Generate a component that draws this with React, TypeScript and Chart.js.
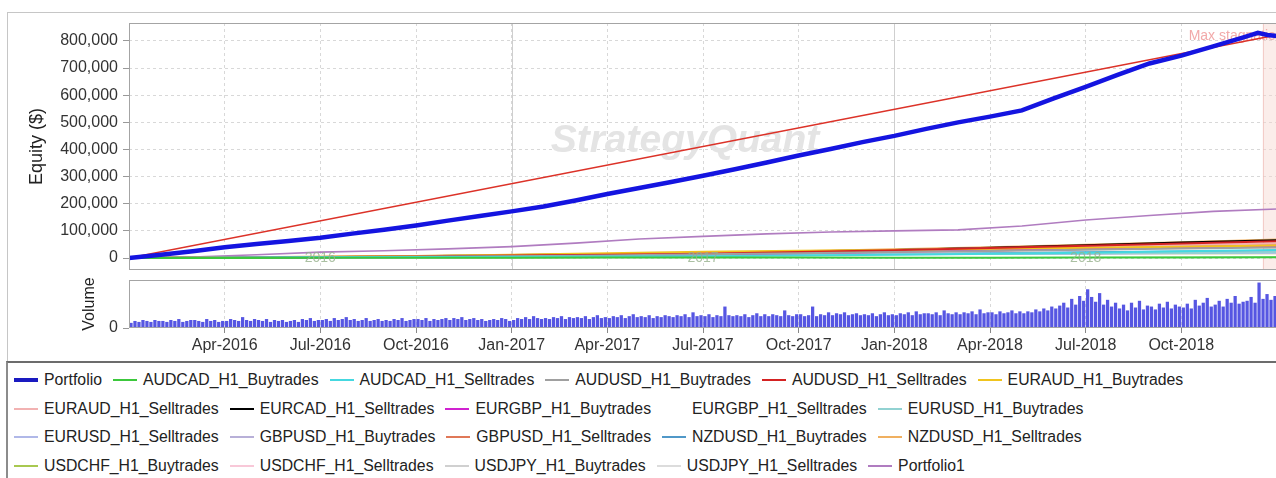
import React, { useEffect, useRef } from 'react';
import { Chart, registerables } from 'chart.js';

Chart.register(...registerables);

// ---------- axis / tick data ----------
const xTickMonths = [3, 6, 9, 12, 15, 18, 21, 24, 27, 30, 33];
const xTickLabels = ['Apr-2016', 'Jul-2016', 'Oct-2016', 'Jan-2017', 'Apr-2017', 'Jul-2017', 'Oct-2017', 'Jan-2018', 'Apr-2018', 'Jul-2018', 'Oct-2018'];
const yearBoundaryMonths = [12, 24];
const yearLabels = ['2016', '2017', '2018'];
const yearLabelMonths = [6, 18, 30];
const equityTicks = [0, 100000, 200000, 300000, 400000, 500000, 600000, 700000, 800000];
const stagnationStartMonth = 35.55;
const stagnationEndMonth = 36;

// ---------- series data (x in months since Jan-2016) ----------
const portfolioMonths = [0, 1, 2, 3, 4, 5, 6, 7, 8, 9, 10, 11, 12, 13, 14, 15, 16, 17, 18, 19, 20, 21, 22, 23, 24, 25, 26, 27, 28, 29, 30, 31, 32, 33, 34, 35, 35.4, 35.7, 36];
const portfolioValues = [0, 12000, 25000, 40000, 52000, 63000, 75000, 90000, 104000, 120000, 138000, 155000, 172000, 190000, 212000, 236000, 258000, 280000, 303000, 327000, 352000, 378000, 402000, 427000, 450000, 476000, 500000, 521000, 544000, 588000, 631000, 675000, 717000, 746000, 780000, 815000, 830000, 822000, 818000];

const trendMonths = [0, 36];
const trendValues = [0, 822000];

const portfolio1Months = [0, 2, 4, 6, 8, 10, 12, 14, 16, 18, 20, 22, 24, 26, 28, 30, 32, 34, 36];
const portfolio1Values = [0, 4000, 12000, 22000, 27000, 34000, 42000, 55000, 70000, 80000, 89000, 96000, 100000, 104000, 118000, 140000, 157000, 172000, 181000];

const strategyMonths = [0, 3, 6, 9, 12, 15, 18, 21, 24, 27, 30, 33, 36];
const audcadBuy = [0, 0, 1000, 1000, 1000, 2000, 2000, 2000, 1000, 1000, 2000, 2000, 3000];
const audcadSell = [0, 2000, 3000, 4000, 5000, 6000, 7000, 9000, 12000, 16000, 20000, 25000, 30000];
const audusdBuy = [0, 1000, 3000, 5000, 7000, 9000, 14000, 18000, 22000, 26000, 31000, 35000, 39000];
const audusdSell = [0, 2000, 4000, 6000, 9000, 12000, 16000, 22000, 29000, 37000, 45000, 54000, 62000];
const euraudBuy = [0, 3000, 5000, 8000, 12000, 18000, 23000, 27000, 30000, 34000, 38000, 42000, 46000];
const euraudSell = [0, 2000, 5000, 8000, 11000, 14000, 19000, 24000, 30000, 36000, 42000, 48000, 54000];
const eurcadSell = [0, 1000, 3000, 7000, 11000, 14000, 19000, 24000, 30000, 38000, 47000, 57000, 66000];
const eurgbpBuy = [0, 1000, 2000, 4000, 6000, 9000, 13000, 18000, 23000, 28000, 33000, 39000, 44000];
const eurgbpSell = [0, 1000, 2000, 3000, 4000, 4000, 5000, 6000, 7000, 8000, 8000, 9000, 10000];
const eurusdBuy = [0, 1000, 2000, 3000, 5000, 7000, 9000, 11000, 13000, 15000, 17000, 19000, 21000];
const eurusdSell = [0, 1000, 2000, 3000, 4000, 6000, 8000, 10000, 12000, 14000, 16000, 18000, 20000];
const gbpusdBuy = [0, 1000, 2000, 4000, 6000, 8000, 10000, 12000, 14000, 16000, 18000, 20000, 22000];
const gbpusdSell = [0, 2000, 4000, 7000, 10000, 13000, 17000, 21000, 26000, 32000, 38000, 44000, 50000];
const nzdusdBuy = [0, 1000, 2000, 3000, 5000, 7000, 9000, 12000, 15000, 18000, 21000, 24000, 27000];
const nzdusdSell = [0, 2000, 4000, 7000, 10000, 14000, 19000, 25000, 32000, 40000, 49000, 58000, 68000];
const usdchfBuy = [0, 1000, 1000, 2000, 3000, 4000, 5000, 6000, 6000, 7000, 8000, 9000, 10000];
const usdchfSell = [0, 1000, 2000, 3000, 4000, 5000, 6000, 8000, 9000, 10000, 12000, 13000, 15000];
const usdjpyBuy = [0, 1000, 1000, 2000, 3000, 4000, 5000, 6000, 7000, 8000, 9000, 10000, 11000];
const usdjpySell = [0, 0, 1000, 1000, 2000, 2000, 3000, 4000, 4000, 5000, 6000, 7000, 8000];

const strategyNames = ['AUDCAD_H1_Buytrades', 'AUDCAD_H1_Selltrades', 'AUDUSD_H1_Buytrades', 'AUDUSD_H1_Selltrades', 'EURAUD_H1_Buytrades', 'EURAUD_H1_Selltrades', 'EURCAD_H1_Selltrades', 'EURGBP_H1_Buytrades', 'EURGBP_H1_Selltrades', 'EURUSD_H1_Buytrades', 'EURUSD_H1_Selltrades', 'GBPUSD_H1_Buytrades', 'GBPUSD_H1_Selltrades', 'NZDUSD_H1_Buytrades', 'NZDUSD_H1_Selltrades', 'USDCHF_H1_Buytrades', 'USDCHF_H1_Selltrades', 'USDJPY_H1_Buytrades', 'USDJPY_H1_Selltrades'];
const strategyColors = ['#3cc83c', '#45d8e0', '#a0a0a0', '#d42222', '#f0c41e', '#f2b2b2', '#000000', '#d022d0', '#ffffff', '#92d2d2', '#b0b8e8', '#b8b0d8', '#e07858', '#5098c8', '#f0b060', '#a8c850', '#f8c8d8', '#d0d0d0', '#dcdcdc'];
const strategySeries = [audcadBuy, audcadSell, audusdBuy, audusdSell, euraudBuy, euraudSell, eurcadSell, eurgbpBuy, eurgbpSell, eurusdBuy, eurusdSell, gbpusdBuy, gbpusdSell, nzdusdBuy, nzdusdSell, usdchfBuy, usdchfSell, usdjpyBuy, usdjpySell];

const portfolioColor = '#1414e0';
const portfolioLegendColor = '#1a1ac0';
const trendColor = '#dc3228';
const portfolio1Color = '#b07cc0';

// volume (8 bars per month), panel units 0..50
const volume2016 = [
  5, 7, 6, 8, 7, 6, 8, 7, 7, 6, 8, 7, 9, 6, 7, 8, 8, 7, 6, 9, 7, 8, 6, 7,
  7, 9, 8, 7, 11, 8, 7, 9, 8, 7, 9, 6, 8, 7, 8, 6, 7, 8, 6, 9, 8, 10, 7, 8,
  8, 9, 7, 10, 8, 9, 11, 8, 9, 7, 8, 10, 7, 8, 9, 7, 8, 7, 9, 8, 10, 7, 8, 9,
  9, 8, 10, 7, 9, 8, 9, 10, 8, 10, 9, 11, 8, 9, 10, 8, 9, 7, 8, 9, 8, 10, 9, 7,
];
const volume2017 = [
  8, 10, 9, 11, 9, 12, 10, 9, 10, 9, 11, 10, 12, 9, 11, 10, 11, 10, 12, 9, 11, 13, 10, 11,
  10, 12, 11, 13, 10, 12, 14, 11, 12, 11, 13, 10, 12, 11, 13, 12, 11, 13, 12, 14, 11, 16, 12, 13,
  12, 14, 11, 13, 12, 22, 13, 12, 13, 12, 14, 11, 13, 15, 12, 14, 12, 14, 13, 12, 18, 13, 12, 14,
  14, 12, 13, 22, 12, 14, 13, 16, 13, 15, 14, 16, 13, 14, 15, 13, 14, 13, 15, 12, 14, 16, 13, 14,
];
const volume2018 = [
  13, 15, 14, 16, 13, 17, 14, 15, 15, 14, 16, 13, 18, 15, 14, 16, 14, 16, 15, 17, 14, 19, 15, 16,
  16, 14, 17, 15, 16, 18, 15, 17, 15, 17, 16, 19, 17, 20, 18, 22, 20, 23, 26, 21, 30, 24, 33, 28,
  40, 32, 27, 36, 24, 29, 22, 26, 20, 24, 18, 26, 21, 28, 19, 23, 22, 19, 25, 21, 27, 20, 24, 22,
  21, 25, 20, 29, 23, 26, 31, 22, 24, 28, 22, 30, 26, 33, 25, 27, 28, 32, 26, 47, 30, 35, 29, 33,
];
const volumeYears = [volume2016, volume2017, volume2018];
const barsPerMonth = 8;
const volumeColor = '#5656e2';

const legendNames = ['Portfolio', ...strategyNames, 'Portfolio1'];
const legendColors = [portfolioLegendColor, ...strategyColors, portfolio1Color];

const FONT = "'Liberation Sans', Arial, Helvetica, sans-serif";

function toPoints(xs: number[], ys: number[]) {
  return xs.map((x, i) => ({ x, y: ys[i] }));
}

const noPad = (s: any) => {
  s.paddingTop = 0;
  s.paddingBottom = 0;
  s.paddingLeft = 0;
  s.paddingRight = 0;
};

const decorPlugin = {
  id: 'decor',
  beforeDatasetsDraw(chart: any) {
    const { ctx, chartArea: a, scales } = chart;
    const xs = scales.x;
    ctx.save();
    ctx.beginPath();
    ctx.rect(a.left, a.top, a.right - a.left, a.bottom - a.top);
    ctx.clip();
    ctx.strokeStyle = '#cfcfcf';
    ctx.lineWidth = 1;
    yearBoundaryMonths.forEach((m) => {
      const px = Math.round(xs.getPixelForValue(m)) + 0.5;
      ctx.beginPath();
      ctx.moveTo(px, a.top);
      ctx.lineTo(px, a.bottom);
      ctx.stroke();
    });
    ctx.font = `italic bold 39px ${FONT}`;
    ctx.fillStyle = '#e4e4e4';
    ctx.textAlign = 'center';
    ctx.textBaseline = 'middle';
    ctx.fillText('StrategyQuant', a.left + 556, a.top + 118);
    const s0 = xs.getPixelForValue(stagnationStartMonth);
    const s1 = xs.getPixelForValue(stagnationEndMonth);
    ctx.fillStyle = 'rgba(246, 214, 208, 0.45)';
    ctx.fillRect(s0, a.top, s1 - s0, a.bottom - a.top);
    ctx.strokeStyle = 'rgba(240, 190, 185, 0.7)';
    ctx.beginPath();
    ctx.moveTo(Math.round(s0) + 0.5, a.top);
    ctx.lineTo(Math.round(s0) + 0.5, a.bottom);
    ctx.stroke();
    ctx.font = `14px ${FONT}`;
    ctx.fillStyle = '#f2aaaa';
    ctx.textAlign = 'left';
    ctx.textBaseline = 'middle';
    ctx.fillText('Max stagnation', s0 - 74, a.top + 13);
    ctx.restore();
  },
  afterDatasetsDraw(chart: any) {
    const { ctx, chartArea: a, scales } = chart;
    const xs = scales.x;
    ctx.save();
    ctx.font = `14px ${FONT}`;
    ctx.fillStyle = 'rgba(150, 176, 140, 0.8)';
    ctx.textAlign = 'center';
    ctx.textBaseline = 'middle';
    yearLabelMonths.forEach((m, i) => {
      ctx.fillText(yearLabels[i], xs.getPixelForValue(m), a.bottom - 12);
    });
    ctx.restore();
  },
};

const borderPlugin = {
  id: 'plotBorder',
  afterDraw(chart: any) {
    const { ctx, chartArea: a } = chart;
    ctx.save();
    ctx.strokeStyle = '#a4a4a4';
    ctx.lineWidth = 1;
    ctx.strokeRect(a.left + 0.5, a.top + 0.5, a.right - a.left - 1, a.bottom - a.top - 1);
    ctx.restore();
  },
};

export default function App() {
  const eqRef = useRef<HTMLCanvasElement | null>(null);
  const volRef = useRef<HTMLCanvasElement | null>(null);

  useEffect(() => {
    Chart.defaults.font.family = FONT;
    Chart.defaults.color = '#333';

    const lineDatasets: any[] = [];
    lineDatasets.push({
      label: 'Portfolio',
      data: toPoints(portfolioMonths, portfolioValues),
      borderColor: portfolioColor,
      borderWidth: 4.5,
    });
    lineDatasets.push({
      label: 'Trend',
      data: toPoints(trendMonths, trendValues),
      borderColor: trendColor,
      borderWidth: 1.6,
    });
    strategySeries.forEach((vals, i) => {
      lineDatasets.push({
        label: strategyNames[i],
        data: toPoints(strategyMonths, vals),
        borderColor: strategyColors[i],
        borderWidth: 2,
      });
    });
    lineDatasets.push({
      label: 'Portfolio1',
      data: toPoints(portfolio1Months, portfolio1Values),
      borderColor: portfolio1Color,
      borderWidth: 1.6,
    });

    const eqChart = new Chart(eqRef.current as HTMLCanvasElement, {
      type: 'line',
      data: { datasets: lineDatasets },
      options: {
        responsive: false,
        animation: false,
        events: [],
        layout: { padding: { left: 0, top: 23, right: 3, bottom: 8 } },
        elements: { point: { radius: 0 }, line: { tension: 0 } },
        plugins: { legend: { display: false }, tooltip: { enabled: false } },
        scales: {
          x: {
            type: 'linear',
            min: 0,
            max: 36,
            afterBuildTicks: (s: any) => { s.ticks = xTickMonths.map((v) => ({ value: v })); },
            afterFit: (s: any) => { s.height = 0; noPad(s); },
            ticks: { display: false },
            grid: { color: '#d8d8d8', drawTicks: false },
            border: { display: false, dash: [3, 3] },
          },
          y: {
            type: 'linear',
            min: -44000,
            max: 866000,
            afterBuildTicks: (s: any) => { s.ticks = equityTicks.map((v) => ({ value: v })); },
            afterFit: (s: any) => { s.width = 129; noPad(s); },
            ticks: {
              callback: (v: any) => Number(v).toLocaleString('en-US'),
              font: { size: 16 },
              color: '#333',
              padding: 5,
            },
            grid: { color: '#d8d8d8', tickColor: '#999', tickLength: 6, tickBorderDash: [] },
            border: { display: false, dash: [3, 3] },
            title: { display: true, text: 'Equity ($)', font: { size: 18 }, color: '#222', padding: { top: 26, bottom: 0 } },
          },
        },
      } as any,
      plugins: [decorPlugin, borderPlugin],
    });

    const volPoints: { x: number; y: number }[] = [];
    volumeYears.forEach((arr, yi) => {
      arr.forEach((v, k) => {
        volPoints.push({ x: yi * 12 + (k + 0.5) / barsPerMonth, y: v });
      });
    });

    const volChart = new Chart(volRef.current as HTMLCanvasElement, {
      type: 'bar',
      data: {
        datasets: [{
          label: 'Volume',
          data: volPoints,
          backgroundColor: volumeColor,
          borderWidth: 0,
          barThickness: 2.6,
          grouped: false,
        }],
      },
      options: {
        responsive: false,
        animation: false,
        events: [],
        layout: { padding: { left: 0, top: 8, right: 3, bottom: 0 } },
        plugins: { legend: { display: false }, tooltip: { enabled: false } },
        scales: {
          x: {
            type: 'linear',
            min: 0,
            max: 36,
            offset: false,
            afterBuildTicks: (s: any) => { s.ticks = xTickMonths.map((v) => ({ value: v })); },
            afterFit: (s: any) => { s.height = 34; noPad(s); },
            ticks: {
              autoSkip: false,
              maxRotation: 0,
              minRotation: 0,
              callback: (v: any) => xTickLabels[xTickMonths.indexOf(Number(v))],
              font: { size: 16 },
              color: '#333',
              padding: 2.5,
            },
            grid: { offset: false, color: '#d8d8d8', tickColor: '#888', tickLength: 5, tickBorderDash: [] },
            border: { display: false, dash: [3, 3] },
          },
          y: {
            type: 'linear',
            min: 0,
            max: 50,
            afterBuildTicks: (s: any) => { s.ticks = [{ value: 0 }]; },
            afterFit: (s: any) => { s.width = 129; noPad(s); },
            ticks: { font: { size: 16 }, color: '#333', padding: 5 },
            grid: { drawOnChartArea: false, tickColor: '#999', tickLength: 6 },
            border: { display: false },
            title: { display: true, text: 'Volume', font: { size: 16 }, color: '#222', padding: { top: 80, bottom: 0 } },
          },
        },
      } as any,
      plugins: [borderPlugin],
    });

    return () => {
      eqChart.destroy();
      volChart.destroy();
    };
  }, []);

  return (
    <div style={{ position: 'absolute', left: 0, top: 0, width: 1276, height: 478, overflow: 'hidden', background: '#fff', fontFamily: FONT }}>
      <div style={{ position: 'absolute', left: 7, top: 12, width: 1300, height: 360, borderTop: '1px solid #c6c6c6', borderLeft: '1px solid #c6c6c6' }} />
      <canvas ref={eqRef} width={1280} height={278} style={{ position: 'absolute', left: 0, top: 0 }} />
      <canvas ref={volRef} width={1280} height={90} style={{ position: 'absolute', left: 0, top: 272 }} />
      <div
        style={{
          position: 'absolute',
          left: 6,
          top: 361,
          width: 1270,
          height: 130,
          boxSizing: 'border-box',
          borderTop: '2px solid #6c6c6c',
          borderLeft: '2px solid #8c8c8c',
          paddingLeft: 6,
          paddingTop: 3,
          display: 'flex',
          flexWrap: 'wrap',
          alignContent: 'flex-start',
          background: '#fff',
        }}
      >
        {legendNames.map((name, i) => (
          <div key={name} style={{ display: 'flex', alignItems: 'center', height: 28.5, marginRight: 11 }}>
            <span style={{ display: 'inline-block', width: 24, height: i === 0 ? 4 : 2, background: legendColors[i], marginRight: 6 }} />
            <span style={{ fontSize: 15.8, color: '#222', whiteSpace: 'nowrap' }}>{name}</span>
          </div>
        ))}
      </div>
    </div>
  );
}
